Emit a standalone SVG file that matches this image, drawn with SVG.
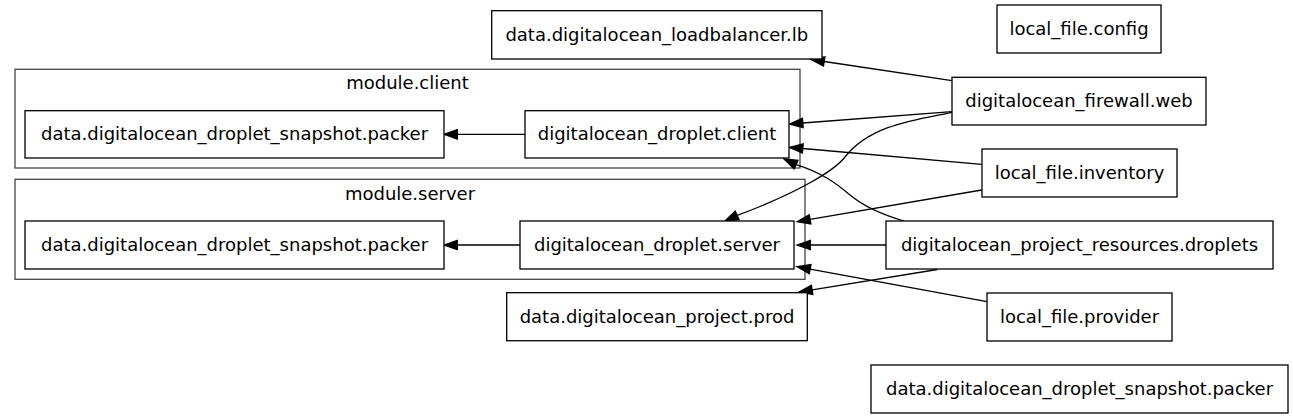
<svg xmlns="http://www.w3.org/2000/svg" width="1293" height="419" viewBox="0 0 1293 419">
<style>
.bg{fill:#ffffff}
.cl{fill:none;stroke:#444444;stroke-width:1.3}
.nd{fill:#ffffff;stroke:#000000;stroke-width:1.3}
.t{font-family:"DejaVu Sans","Noto Sans",sans-serif;font-size:18px;fill:#000000;text-anchor:middle}
.e{fill:none;stroke:#000000;stroke-width:1.3}
.ah{fill:#000000;stroke:#000000;stroke-width:1.3}
</style>
<rect class="bg" x="0" y="0" width="1293" height="419"/>
<g id="cluster_client">
<rect class="cl" x="15" y="69.3" width="785" height="98.7"/>
<text class="t" x="407.5" y="89">module.client</text>
</g>
<g id="cluster_server">
<rect class="cl" x="15" y="179.3" width="790" height="100"/>
<text class="t" x="410" y="200">module.server</text>
</g>
<g id="connectors">
<path class="e" d="M952,80.7 L824.2,61.5"/>
<polygon class="ah" points="811,59.5 824.9,56.9 823.5,66.1"/>
<path class="e" d="M952,111.7 L802.8,123"/>
<polygon class="ah" points="789.5,124 802.4,118.3 803.2,127.7"/>
<path class="e" d="M952,112.3 C915,120 870,125 845,157 C835,170 800,192 737.1,215.45"/>
<polygon class="ah" points="725,221 735.2,211.2 739.1,219.7"/>
<path class="e" d="M981.7,164.3 L802.8,148.5"/>
<polygon class="ah" points="789.5,147.3 803.2,143.8 802.4,153.1"/>
<path class="e" d="M981.7,190 L810.1,219.4"/>
<polygon class="ah" points="797,221.7 809.3,214.8 810.9,224"/>
<path class="e" d="M904,221 C880,214 862,205 850,195 C835,182 820,172 796.1,164.55"/>
<polygon class="ah" points="784,159 798,160.3 794.2,168.8"/>
<path class="e" d="M886,245 L810.3,245"/>
<polygon class="ah" points="797,245 810.3,240.3 810.3,249.7"/>
<path class="e" d="M937.3,269.5 L812.2,289.9"/>
<polygon class="ah" points="799,292 811.4,285.3 812.9,294.5"/>
<path class="e" d="M987,301.7 L810.1,269.1"/>
<polygon class="ah" points="797,266.7 811,264.5 809.3,273.7"/>
<path class="e" d="M525,134.3 L457.3,134.3"/>
<polygon class="ah" points="444,134.3 457.3,129.6 457.3,139"/>
<path class="e" d="M520,245 L457.3,245"/>
<polygon class="ah" points="444,245 457.3,240.3 457.3,249.7"/>
</g>
<g id="node_lb">
<rect class="nd" x="491.7" y="10.7" width="330.3" height="48.3"/>
<text class="t" x="656.85" y="40.9">data.digitalocean_loadbalancer.lb</text>
</g>
<g id="node_config">
<rect class="nd" x="997" y="5" width="164" height="48"/>
<text class="t" x="1079" y="35">local_file.config</text>
</g>
<g id="node_firewall">
<rect class="nd" x="952" y="77.3" width="254" height="47.7"/>
<text class="t" x="1079" y="107.2">digitalocean_firewall.web</text>
</g>
<g id="node_inventory">
<rect class="nd" x="982" y="149" width="195" height="48"/>
<text class="t" x="1079.5" y="179">local_file.inventory</text>
</g>
<g id="node_droplets">
<rect class="nd" x="886" y="221" width="387" height="48"/>
<text class="t" x="1079.5" y="251">digitalocean_project_resources.droplets</text>
</g>
<g id="node_provider">
<rect class="nd" x="987" y="293" width="185" height="48"/>
<text class="t" x="1079.5" y="323">local_file.provider</text>
</g>
<g id="node_packer">
<rect class="nd" x="871" y="365" width="417" height="48"/>
<text class="t" x="1079.5" y="395">data.digitalocean_droplet_snapshot.packer</text>
</g>
<g id="node_client_droplet">
<rect class="nd" x="525" y="110.7" width="264" height="47.3"/>
<text class="t" x="657" y="140.3">digitalocean_droplet.client</text>
</g>
<g id="node_client_packer">
<rect class="nd" x="25" y="110.7" width="419" height="47.3"/>
<text class="t" x="234.5" y="140.3">data.digitalocean_droplet_snapshot.packer</text>
</g>
<g id="node_server_droplet">
<rect class="nd" x="520" y="221" width="274" height="48"/>
<text class="t" x="657" y="251">digitalocean_droplet.server</text>
</g>
<g id="node_server_packer">
<rect class="nd" x="25" y="221" width="419" height="48"/>
<text class="t" x="234.5" y="251">data.digitalocean_droplet_snapshot.packer</text>
</g>
<g id="node_prod">
<rect class="nd" x="506.7" y="292.7" width="300.6" height="48"/>
<text class="t" x="657" y="322.7">data.digitalocean_project.prod</text>
</g>
</svg>
